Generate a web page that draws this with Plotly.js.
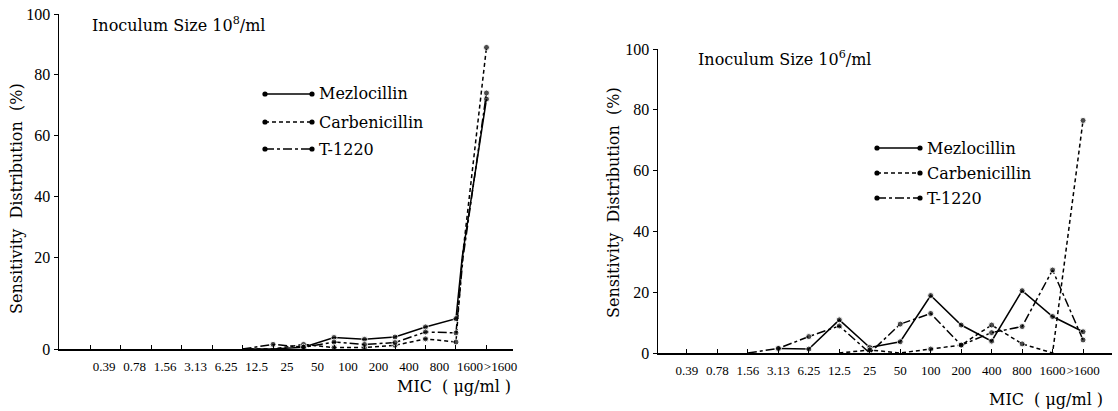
<!DOCTYPE html>
<html><head><meta charset="utf-8">
<script src="https://cdn.plot.ly/plotly-3.0.1.min.js"></script>
<style>html,body{margin:0;padding:0;background:#fff;}</style>
</head><body>
<div id="chart" style="width:1118px;height:411px;"></div>
<script>
// ---- data ----
const micLabels = ["0.39","0.78","1.56","3.13","6.25","12.5","25","50","100","200","400","800","1600",">1600"];
// Inoculum size 10^8/ml
const mezlocillin8   = [null,null,null,null,null,0,0,0.4,2.5,2.1,2.6,4.8,6.6,72];
const carbenicillin8 = [null,null,null,null,null,0,0,1.0,0.3,0.3,0.8,2.2,1.5,89];
const t1220_8        = [null,null,null,null,null,0,1.0,0.4,1.5,1.0,1.4,3.7,3.5,74];
// Inoculum size 10^6/ml
const mezlocillin6   = [null,null,null,1.5,1.3,10.9,1.8,3.7,18.9,9.2,3.9,20.5,12.0,7.0];
const carbenicillin6 = [null,null,null,null,null,0,1.0,0,1.3,2.6,9.2,3.0,0,76.5];
const t1220_6        = [null,null,0,1.5,5.4,8.9,0,9.5,13.0,2.6,6.7,8.7,27.3,4.3];
const seriesNames = ["Mezlocillin","Carbenicillin","T-1220"];
const leftLowTicks = [0];
const leftHighTicks = [20,40,60,80,100];
const rightTicks = [0,20,40,60,80,100];

// ---- geometry helpers ----
const W = 1118, H = 411;
const fx = p => p / W;
const fy = p => 1 - p / H;
const dashes = ["solid", "4px,3px", "9px,3px,3px,3px"];
const serif = "DejaVu Serif, Liberation Serif, serif";
const tickFam = "Liberation Serif, Times New Roman, serif";

function sizes(arr){ return arr.map(v => (v === null || v === 0) ? 0 : 6); }
function mk(vals, i, xa, ya){
  return {
    type: "scatter", mode: "lines+markers", x: micLabels, y: vals,
    xaxis: xa, yaxis: ya, name: seriesNames[i], showlegend: false,
    line: {color: "#000", width: 1.5, dash: dashes[i]},
    marker: {color: "#000", size: sizes(vals)},
    connectgaps: false, hoverinfo: "skip"
  };
}
const left = [mezlocillin8, carbenicillin8, t1220_8];
const right = [mezlocillin6, carbenicillin6, t1220_6];
const traces = [];
left.forEach((s,i) => { traces.push(mk(s,i,"x","y")); traces.push(mk(s,i,"x","y2")); });
right.forEach((s,i) => traces.push(mk(s,i,"x2","y3")));

const xCommon = {
  type: "category", categoryorder: "array", categoryarray: micLabels,
  showline: true, linecolor: "#000", linewidth: 1.5, showgrid: false, zeroline: false,
  ticks: "inside", ticklen: 4, tickcolor: "#000", tickwidth: 1, tickangle: 0,
  tickfont: {family: tickFam, size: 13, color: "#000"}, ticklabelstandoff: 5
};
const yCommon = {
  showline: true, linecolor: "#000", linewidth: 1.5, showgrid: false, zeroline: false,
  ticks: "outside", ticklen: 4, tickcolor: "#000", tickwidth: 1,
  tickfont: {family: tickFam, size: 16, color: "#000"}, fixedrange: true
};

const layout = {
  width: W, height: H, margin: {l:0, r:0, t:0, b:0},
  paper_bgcolor: "#fff", plot_bgcolor: "rgba(0,0,0,0)", showlegend: false,
  xaxis: Object.assign({}, xCommon, {domain: [fx(59), fx(513)], anchor: "y", range: [-1.02, 13.87], ticklabelshift: 14}),
  yaxis: Object.assign({}, yCommon, {domain: [fy(349), fy(257)], anchor: "x", range: [0, 20], tickvals: leftLowTicks}),
  yaxis2: Object.assign({}, yCommon, {domain: [fy(257), fy(14)], anchor: "x", range: [20, 100], tickvals: leftHighTicks}),
  xaxis2: Object.assign({}, xCommon, {domain: [fx(658), fx(1112)], anchor: "y3", range: [-0.95, 13.95]}),
  yaxis3: Object.assign({}, yCommon, {domain: [fy(353), fy(49)], anchor: "x2", range: [0, 100], tickvals: rightTicks}),
  annotations: [], shapes: []
};

function txt(t, x, y, opts){
  layout.annotations.push(Object.assign({
    text: t, xref: "paper", yref: "paper", x: fx(x), y: fy(y),
    xanchor: "left", yanchor: "middle", showarrow: false,
    font: {family: serif, size: 16, color: "#000"}
  }, opts || {}));
}
const nb = "\u00a0";
txt("Inoculum"+nb+"Size"+nb+"10<sup>8</sup>/ml", 90, 24);
txt("Inoculum"+nb+"Size"+nb+"10<sup>6</sup>/ml", 696, 58);
txt("Sensitivity"+nb+nb+"Distribution"+nb+nb+"(%)", 17, 199, {xanchor: "center", textangle: -90, font: {family: serif, size: 16, color: "#000"}});
txt("Sensitivity"+nb+nb+"Distribution"+nb+nb+"(%)", 614, 203, {xanchor: "center", textangle: -90, font: {family: serif, size: 16, color: "#000"}});
txt("MIC"+nb+nb+"("+nb+"μg/ml"+nb+")", 513, 386, {xanchor: "right"});
txt("MIC"+nb+nb+"("+nb+"μg/ml"+nb+")", 1105, 399, {xanchor: "right"});

// ---- manual legends (line with end dots, like the original) ----
function legendBlock(x0, x1, tx, rows){
  rows.forEach((yy, i) => {
    layout.shapes.push({type: "line", xref: "paper", yref: "paper",
      x0: fx(x0), x1: fx(x1), y0: fy(yy), y1: fy(yy),
      line: {color: "#000", width: 1.5, dash: dashes[i]}});
    [x0, x1].forEach(cx => layout.shapes.push({type: "circle", xref: "paper", yref: "paper",
      x0: fx(cx-2.6), x1: fx(cx+2.6), y0: fy(yy+2.6), y1: fy(yy-2.6),
      fillcolor: "#000", line: {color: "#000", width: 0}}));
    txt(seriesNames[i], tx, yy);
  });
}
legendBlock(265, 312, 317, [94, 122, 149]);
legendBlock(877, 920, 925, [148, 173, 198]);

Plotly.newPlot("chart", traces, layout, {staticPlot: true, displayModeBar: false});
</script>
</body></html>
